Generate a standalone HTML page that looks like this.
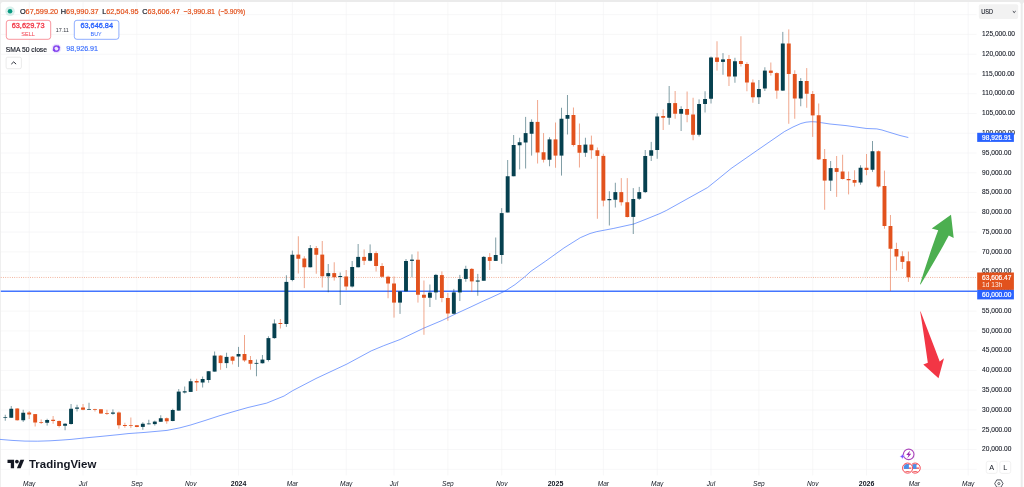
<!DOCTYPE html>
<html lang="en">
<head>
<meta charset="utf-8">
<title>BTCUSD chart</title>
<style>
html,body{margin:0;padding:0;background:#ffffff;overflow:hidden}
body{width:1024px;height:487px;font-family:"Liberation Sans",sans-serif}
svg text{font-family:"Liberation Sans",sans-serif}
</style>
</head>
<body>
<svg width="1024" height="487" viewBox="0 0 1024 487" font-family='"Liberation Sans", sans-serif' style="display:block">
<rect x="0" y="0" width="1024" height="487" fill="#ebebeb"/>
<path d="M0.8 487V4.3Q0.8 2.1 3 2.1H1018.5Q1020.7 2.1 1020.7 4.3V487Z" fill="#ffffff"/>
<path d="M1022.7 487V4.3Q1022.7 2.1 1024.9 2.1H1030V487Z" fill="#ffffff"/>
<g stroke="#f1f2f4" stroke-width="0.6" shape-rendering="auto">
<line x1="0.8" y1="14.65" x2="976.6" y2="14.65"/>
<line x1="0.8" y1="34.42" x2="976.6" y2="34.42"/>
<line x1="0.8" y1="54.19" x2="976.6" y2="54.19"/>
<line x1="0.8" y1="73.95" x2="976.6" y2="73.95"/>
<line x1="0.8" y1="93.72" x2="976.6" y2="93.72"/>
<line x1="0.8" y1="113.49" x2="976.6" y2="113.49"/>
<line x1="0.8" y1="133.26" x2="976.6" y2="133.26"/>
<line x1="0.8" y1="153.02" x2="976.6" y2="153.02"/>
<line x1="0.8" y1="172.79" x2="976.6" y2="172.79"/>
<line x1="0.8" y1="192.56" x2="976.6" y2="192.56"/>
<line x1="0.8" y1="212.33" x2="976.6" y2="212.33"/>
<line x1="0.8" y1="232.09" x2="976.6" y2="232.09"/>
<line x1="0.8" y1="251.86" x2="976.6" y2="251.86"/>
<line x1="0.8" y1="271.63" x2="976.6" y2="271.63"/>
<line x1="0.8" y1="291.39" x2="976.6" y2="291.39"/>
<line x1="0.8" y1="311.16" x2="976.6" y2="311.16"/>
<line x1="0.8" y1="330.93" x2="976.6" y2="330.93"/>
<line x1="0.8" y1="350.70" x2="976.6" y2="350.70"/>
<line x1="0.8" y1="370.47" x2="976.6" y2="370.47"/>
<line x1="0.8" y1="390.23" x2="976.6" y2="390.23"/>
<line x1="0.8" y1="410.00" x2="976.6" y2="410.00"/>
<line x1="0.8" y1="429.77" x2="976.6" y2="429.77"/>
<line x1="0.8" y1="449.54" x2="976.6" y2="449.54"/>
<line x1="0.8" y1="469.30" x2="976.6" y2="469.30"/>
<line x1="29.19" y1="2.1" x2="29.19" y2="475.5"/>
<line x1="83.02" y1="2.1" x2="83.02" y2="475.5"/>
<line x1="136.85" y1="2.1" x2="136.85" y2="475.5"/>
<line x1="190.68" y1="2.1" x2="190.68" y2="475.5"/>
<line x1="238.53" y1="2.1" x2="238.53" y2="475.5"/>
<line x1="292.36" y1="2.1" x2="292.36" y2="475.5"/>
<line x1="346.19" y1="2.1" x2="346.19" y2="475.5"/>
<line x1="394.03" y1="2.1" x2="394.03" y2="475.5"/>
<line x1="447.86" y1="2.1" x2="447.86" y2="475.5"/>
<line x1="501.69" y1="2.1" x2="501.69" y2="475.5"/>
<line x1="555.52" y1="2.1" x2="555.52" y2="475.5"/>
<line x1="603.37" y1="2.1" x2="603.37" y2="475.5"/>
<line x1="657.20" y1="2.1" x2="657.20" y2="475.5"/>
<line x1="711.03" y1="2.1" x2="711.03" y2="475.5"/>
<line x1="758.88" y1="2.1" x2="758.88" y2="475.5"/>
<line x1="812.70" y1="2.1" x2="812.70" y2="475.5"/>
<line x1="866.53" y1="2.1" x2="866.53" y2="475.5"/>
<line x1="914.38" y1="2.1" x2="914.38" y2="475.5"/>
<line x1="968.21" y1="2.1" x2="968.21" y2="475.5"/>
</g>
<polyline points="0.0,439.4 12.0,440.4 25.0,441.1 37.5,441.2 50.0,440.8 60.0,440.2 71.0,439.4 85.0,437.9 100.0,436.5 120.0,434.5 128.0,433.6 145.0,432.4 167.0,430.4 180.0,427.8 190.6,425.0 205.0,420.5 220.0,415.6 235.0,411.2 248.0,407.5 266.7,403.1 284.1,396.0 292.4,390.8 316.0,378.5 346.8,364.1 371.4,350.8 383.7,345.7 400.1,339.5 423.7,328.2 442.2,320.4 455.0,314.2 470.0,307.3 483.8,300.8 490.0,298.1 504.8,291.2 515.0,284.6 524.9,276.7 531.0,271.2 545.4,261.3 563.9,248.0 580.3,237.7 590.0,233.5 596.8,231.6 613.2,228.5 633.7,224.0 646.0,219.2 660.0,213.5 666.5,210.4 690.0,197.3 707.5,187.6 717.0,180.0 731.1,168.5 757.7,150.0 784.4,131.6 793.0,127.0 800.9,123.5 806.0,122.2 811.1,121.7 816.0,121.9 821.4,122.7 830.0,124.0 846.0,125.6 866.6,128.5 876.8,128.9 882.0,130.0 887.1,131.6 900.0,135.5 908.3,137.5" fill="none" stroke="#2962ff" stroke-width="0.7" stroke-linejoin="round" stroke-opacity="0.85"/>
<line x1="0.8" y1="291.2" x2="977.2" y2="291.2" stroke="#2962ff" stroke-width="1.5" stroke-opacity="0.88"/>
<line x1="0.8" y1="277.45" x2="977.2" y2="277.45" stroke="#e2521d" stroke-width="0.6" stroke-dasharray="0.8 1.45" stroke-opacity="0.9"/>
<g>
<line x1="5.27" y1="414.75" x2="5.27" y2="420.75" stroke="#06404f" stroke-width="0.6" stroke-opacity="0.85"/>
<rect x="3.32" y="417.25" width="3.9" height="0.70" fill="#06404f"/>
<line x1="11.25" y1="406.00" x2="11.25" y2="418.00" stroke="#06404f" stroke-width="0.6" stroke-opacity="0.85"/>
<rect x="9.30" y="408.75" width="3.9" height="9.00" fill="#06404f"/>
<line x1="17.23" y1="408.10" x2="17.23" y2="420.60" stroke="#e2521d" stroke-width="0.6" stroke-opacity="0.85"/>
<rect x="15.28" y="408.50" width="3.9" height="11.75" fill="#e2521d"/>
<line x1="23.21" y1="409.75" x2="23.21" y2="421.90" stroke="#06404f" stroke-width="0.6" stroke-opacity="0.85"/>
<rect x="21.26" y="412.75" width="3.9" height="7.50" fill="#06404f"/>
<line x1="29.19" y1="411.00" x2="29.19" y2="419.00" stroke="#e2521d" stroke-width="0.6" stroke-opacity="0.85"/>
<rect x="27.24" y="412.50" width="3.9" height="2.00" fill="#e2521d"/>
<line x1="35.17" y1="414.10" x2="35.17" y2="426.50" stroke="#e2521d" stroke-width="0.6" stroke-opacity="0.85"/>
<rect x="33.22" y="414.10" width="3.9" height="8.40" fill="#e2521d"/>
<line x1="41.16" y1="419.40" x2="41.16" y2="424.00" stroke="#e2521d" stroke-width="0.6" stroke-opacity="0.85"/>
<rect x="39.21" y="422.00" width="3.9" height="0.75" fill="#e2521d"/>
<line x1="47.14" y1="418.75" x2="47.14" y2="425.60" stroke="#06404f" stroke-width="0.6" stroke-opacity="0.85"/>
<rect x="45.19" y="420.00" width="3.9" height="2.75" fill="#06404f"/>
<line x1="53.12" y1="416.00" x2="53.12" y2="423.75" stroke="#e2521d" stroke-width="0.6" stroke-opacity="0.85"/>
<rect x="51.17" y="419.75" width="3.9" height="1.25" fill="#e2521d"/>
<line x1="59.10" y1="420.40" x2="59.10" y2="427.50" stroke="#e2521d" stroke-width="0.6" stroke-opacity="0.85"/>
<rect x="57.15" y="421.00" width="3.9" height="5.00" fill="#e2521d"/>
<line x1="65.08" y1="423.10" x2="65.08" y2="430.25" stroke="#06404f" stroke-width="0.6" stroke-opacity="0.85"/>
<rect x="63.13" y="423.75" width="3.9" height="2.00" fill="#06404f"/>
<line x1="71.06" y1="404.00" x2="71.06" y2="424.60" stroke="#06404f" stroke-width="0.6" stroke-opacity="0.85"/>
<rect x="69.11" y="408.75" width="3.9" height="15.25" fill="#06404f"/>
<line x1="77.04" y1="404.75" x2="77.04" y2="411.50" stroke="#06404f" stroke-width="0.6" stroke-opacity="0.85"/>
<rect x="75.09" y="407.50" width="3.9" height="1.25" fill="#06404f"/>
<line x1="83.02" y1="404.00" x2="83.02" y2="410.25" stroke="#e2521d" stroke-width="0.6" stroke-opacity="0.85"/>
<rect x="81.07" y="407.50" width="3.9" height="2.25" fill="#e2521d"/>
<line x1="89.00" y1="402.75" x2="89.00" y2="409.75" stroke="#06404f" stroke-width="0.6" stroke-opacity="0.85"/>
<rect x="87.05" y="409.00" width="3.9" height="0.70" fill="#06404f"/>
<line x1="94.98" y1="408.75" x2="94.98" y2="411.50" stroke="#e2521d" stroke-width="0.6" stroke-opacity="0.85"/>
<rect x="93.03" y="409.00" width="3.9" height="0.75" fill="#e2521d"/>
<line x1="100.97" y1="409.00" x2="100.97" y2="413.75" stroke="#e2521d" stroke-width="0.6" stroke-opacity="0.85"/>
<rect x="99.02" y="409.25" width="3.9" height="4.25" fill="#e2521d"/>
<line x1="106.95" y1="409.75" x2="106.95" y2="415.00" stroke="#e2521d" stroke-width="0.6" stroke-opacity="0.85"/>
<rect x="105.00" y="413.00" width="3.9" height="0.75" fill="#e2521d"/>
<line x1="112.93" y1="409.40" x2="112.93" y2="414.75" stroke="#06404f" stroke-width="0.6" stroke-opacity="0.85"/>
<rect x="110.98" y="412.50" width="3.9" height="1.25" fill="#06404f"/>
<line x1="118.91" y1="411.50" x2="118.91" y2="428.75" stroke="#e2521d" stroke-width="0.6" stroke-opacity="0.85"/>
<rect x="116.96" y="412.50" width="3.9" height="12.75" fill="#e2521d"/>
<line x1="124.89" y1="422.75" x2="124.89" y2="427.75" stroke="#e2521d" stroke-width="0.6" stroke-opacity="0.85"/>
<rect x="122.94" y="425.00" width="3.9" height="1.00" fill="#e2521d"/>
<line x1="130.87" y1="417.50" x2="130.87" y2="428.10" stroke="#e2521d" stroke-width="0.6" stroke-opacity="0.85"/>
<rect x="128.92" y="425.00" width="3.9" height="0.75" fill="#e2521d"/>
<line x1="136.85" y1="425.00" x2="136.85" y2="427.25" stroke="#e2521d" stroke-width="0.6" stroke-opacity="0.85"/>
<rect x="134.90" y="425.25" width="3.9" height="1.75" fill="#e2521d"/>
<line x1="142.83" y1="422.25" x2="142.83" y2="429.75" stroke="#06404f" stroke-width="0.6" stroke-opacity="0.85"/>
<rect x="140.88" y="423.75" width="3.9" height="3.15" fill="#06404f"/>
<line x1="148.81" y1="419.75" x2="148.81" y2="424.40" stroke="#06404f" stroke-width="0.6" stroke-opacity="0.85"/>
<rect x="146.86" y="423.50" width="3.9" height="0.75" fill="#06404f"/>
<line x1="154.80" y1="420.60" x2="154.80" y2="425.60" stroke="#06404f" stroke-width="0.6" stroke-opacity="0.85"/>
<rect x="152.85" y="421.60" width="3.9" height="2.50" fill="#06404f"/>
<line x1="160.78" y1="415.25" x2="160.78" y2="421.90" stroke="#06404f" stroke-width="0.6" stroke-opacity="0.85"/>
<rect x="158.83" y="418.25" width="3.9" height="3.50" fill="#06404f"/>
<line x1="166.76" y1="417.50" x2="166.76" y2="423.75" stroke="#e2521d" stroke-width="0.6" stroke-opacity="0.85"/>
<rect x="164.81" y="418.25" width="3.9" height="3.00" fill="#e2521d"/>
<line x1="172.74" y1="408.75" x2="172.74" y2="421.25" stroke="#06404f" stroke-width="0.6" stroke-opacity="0.85"/>
<rect x="170.79" y="410.00" width="3.9" height="11.00" fill="#06404f"/>
<line x1="178.72" y1="389.00" x2="178.72" y2="410.60" stroke="#06404f" stroke-width="0.6" stroke-opacity="0.85"/>
<rect x="176.77" y="391.60" width="3.9" height="19.00" fill="#06404f"/>
<line x1="184.70" y1="386.50" x2="184.70" y2="393.50" stroke="#06404f" stroke-width="0.6" stroke-opacity="0.85"/>
<rect x="182.75" y="391.25" width="3.9" height="1.25" fill="#06404f"/>
<line x1="190.68" y1="378.75" x2="190.68" y2="391.90" stroke="#06404f" stroke-width="0.6" stroke-opacity="0.85"/>
<rect x="188.73" y="381.25" width="3.9" height="10.65" fill="#06404f"/>
<line x1="196.66" y1="378.75" x2="196.66" y2="391.00" stroke="#e2521d" stroke-width="0.6" stroke-opacity="0.85"/>
<rect x="194.71" y="381.00" width="3.9" height="1.50" fill="#e2521d"/>
<line x1="202.64" y1="376.50" x2="202.64" y2="387.50" stroke="#06404f" stroke-width="0.6" stroke-opacity="0.85"/>
<rect x="200.69" y="379.00" width="3.9" height="3.50" fill="#06404f"/>
<line x1="208.62" y1="371.00" x2="208.62" y2="382.75" stroke="#06404f" stroke-width="0.6" stroke-opacity="0.85"/>
<rect x="206.67" y="371.25" width="3.9" height="8.75" fill="#06404f"/>
<line x1="214.61" y1="351.50" x2="214.61" y2="371.60" stroke="#06404f" stroke-width="0.6" stroke-opacity="0.85"/>
<rect x="212.66" y="355.60" width="3.9" height="16.00" fill="#06404f"/>
<line x1="220.59" y1="355.00" x2="220.59" y2="369.75" stroke="#e2521d" stroke-width="0.6" stroke-opacity="0.85"/>
<rect x="218.64" y="355.60" width="3.9" height="7.50" fill="#e2521d"/>
<line x1="226.57" y1="352.75" x2="226.57" y2="368.10" stroke="#06404f" stroke-width="0.6" stroke-opacity="0.85"/>
<rect x="224.62" y="356.90" width="3.9" height="6.20" fill="#06404f"/>
<line x1="232.55" y1="356.00" x2="232.55" y2="364.40" stroke="#e2521d" stroke-width="0.6" stroke-opacity="0.85"/>
<rect x="230.60" y="356.60" width="3.9" height="4.15" fill="#e2521d"/>
<line x1="238.53" y1="346.90" x2="238.53" y2="366.90" stroke="#06404f" stroke-width="0.6" stroke-opacity="0.85"/>
<rect x="236.58" y="354.00" width="3.9" height="2.50" fill="#06404f"/>
<line x1="244.51" y1="335.00" x2="244.51" y2="361.90" stroke="#e2521d" stroke-width="0.6" stroke-opacity="0.85"/>
<rect x="242.56" y="354.00" width="3.9" height="6.40" fill="#e2521d"/>
<line x1="250.49" y1="356.00" x2="250.49" y2="369.75" stroke="#e2521d" stroke-width="0.6" stroke-opacity="0.85"/>
<rect x="248.54" y="360.00" width="3.9" height="3.75" fill="#e2521d"/>
<line x1="256.47" y1="359.50" x2="256.47" y2="376.25" stroke="#06404f" stroke-width="0.6" stroke-opacity="0.85"/>
<rect x="254.52" y="362.90" width="3.9" height="0.85" fill="#06404f"/>
<line x1="262.45" y1="355.00" x2="262.45" y2="363.50" stroke="#06404f" stroke-width="0.6" stroke-opacity="0.85"/>
<rect x="260.50" y="359.60" width="3.9" height="3.65" fill="#06404f"/>
<line x1="268.43" y1="336.25" x2="268.43" y2="361.50" stroke="#06404f" stroke-width="0.6" stroke-opacity="0.85"/>
<rect x="266.48" y="338.10" width="3.9" height="21.90" fill="#06404f"/>
<line x1="274.41" y1="319.40" x2="274.41" y2="338.75" stroke="#06404f" stroke-width="0.6" stroke-opacity="0.85"/>
<rect x="272.46" y="323.50" width="3.9" height="14.60" fill="#06404f"/>
<line x1="280.40" y1="319.00" x2="280.40" y2="328.50" stroke="#e2521d" stroke-width="0.6" stroke-opacity="0.85"/>
<rect x="278.45" y="323.00" width="3.9" height="1.00" fill="#e2521d"/>
<line x1="286.38" y1="275.25" x2="286.38" y2="326.90" stroke="#06404f" stroke-width="0.6" stroke-opacity="0.85"/>
<rect x="284.43" y="281.90" width="3.9" height="42.10" fill="#06404f"/>
<line x1="292.36" y1="250.60" x2="292.36" y2="281.25" stroke="#06404f" stroke-width="0.6" stroke-opacity="0.85"/>
<rect x="290.41" y="254.75" width="3.9" height="25.25" fill="#06404f"/>
<line x1="298.34" y1="236.25" x2="298.34" y2="273.50" stroke="#e2521d" stroke-width="0.6" stroke-opacity="0.85"/>
<rect x="296.39" y="254.60" width="3.9" height="4.15" fill="#e2521d"/>
<line x1="304.32" y1="256.25" x2="304.32" y2="288.10" stroke="#e2521d" stroke-width="0.6" stroke-opacity="0.85"/>
<rect x="302.37" y="258.50" width="3.9" height="8.75" fill="#e2521d"/>
<line x1="310.30" y1="245.00" x2="310.30" y2="267.50" stroke="#06404f" stroke-width="0.6" stroke-opacity="0.85"/>
<rect x="308.35" y="248.10" width="3.9" height="19.15" fill="#06404f"/>
<line x1="316.28" y1="246.00" x2="316.28" y2="273.75" stroke="#e2521d" stroke-width="0.6" stroke-opacity="0.85"/>
<rect x="314.33" y="248.10" width="3.9" height="6.65" fill="#e2521d"/>
<line x1="322.26" y1="241.00" x2="322.26" y2="287.50" stroke="#e2521d" stroke-width="0.6" stroke-opacity="0.85"/>
<rect x="320.31" y="254.60" width="3.9" height="21.65" fill="#e2521d"/>
<line x1="328.24" y1="264.00" x2="328.24" y2="292.25" stroke="#06404f" stroke-width="0.6" stroke-opacity="0.85"/>
<rect x="326.29" y="273.10" width="3.9" height="3.15" fill="#06404f"/>
<line x1="334.22" y1="262.25" x2="334.22" y2="280.60" stroke="#e2521d" stroke-width="0.6" stroke-opacity="0.85"/>
<rect x="332.27" y="273.10" width="3.9" height="4.15" fill="#e2521d"/>
<line x1="340.21" y1="272.50" x2="340.21" y2="305.00" stroke="#06404f" stroke-width="0.6" stroke-opacity="0.85"/>
<rect x="338.26" y="276.00" width="3.9" height="1.00" fill="#06404f"/>
<line x1="346.19" y1="270.00" x2="346.19" y2="290.25" stroke="#e2521d" stroke-width="0.6" stroke-opacity="0.85"/>
<rect x="344.24" y="276.50" width="3.9" height="10.00" fill="#e2521d"/>
<line x1="352.17" y1="261.00" x2="352.17" y2="287.50" stroke="#06404f" stroke-width="0.6" stroke-opacity="0.85"/>
<rect x="350.22" y="267.00" width="3.9" height="19.50" fill="#06404f"/>
<line x1="358.15" y1="244.00" x2="358.15" y2="267.50" stroke="#06404f" stroke-width="0.6" stroke-opacity="0.85"/>
<rect x="356.20" y="256.90" width="3.9" height="10.35" fill="#06404f"/>
<line x1="364.13" y1="249.40" x2="364.13" y2="265.00" stroke="#e2521d" stroke-width="0.6" stroke-opacity="0.85"/>
<rect x="362.18" y="256.90" width="3.9" height="3.85" fill="#e2521d"/>
<line x1="370.11" y1="244.40" x2="370.11" y2="261.25" stroke="#06404f" stroke-width="0.6" stroke-opacity="0.85"/>
<rect x="368.16" y="253.10" width="3.9" height="7.65" fill="#06404f"/>
<line x1="376.09" y1="251.25" x2="376.09" y2="271.50" stroke="#e2521d" stroke-width="0.6" stroke-opacity="0.85"/>
<rect x="374.14" y="253.10" width="3.9" height="12.90" fill="#e2521d"/>
<line x1="382.07" y1="263.10" x2="382.07" y2="277.50" stroke="#e2521d" stroke-width="0.6" stroke-opacity="0.85"/>
<rect x="380.12" y="266.00" width="3.9" height="10.75" fill="#e2521d"/>
<line x1="388.05" y1="275.75" x2="388.05" y2="298.25" stroke="#e2521d" stroke-width="0.6" stroke-opacity="0.85"/>
<rect x="386.10" y="276.75" width="3.9" height="6.75" fill="#e2521d"/>
<line x1="394.03" y1="276.40" x2="394.03" y2="317.60" stroke="#e2521d" stroke-width="0.6" stroke-opacity="0.85"/>
<rect x="392.08" y="283.50" width="3.9" height="19.10" fill="#e2521d"/>
<line x1="400.02" y1="291.00" x2="400.02" y2="313.90" stroke="#06404f" stroke-width="0.6" stroke-opacity="0.85"/>
<rect x="398.07" y="291.40" width="3.9" height="11.20" fill="#06404f"/>
<line x1="406.00" y1="259.00" x2="406.00" y2="291.40" stroke="#06404f" stroke-width="0.6" stroke-opacity="0.85"/>
<rect x="404.05" y="261.00" width="3.9" height="30.40" fill="#06404f"/>
<line x1="411.98" y1="254.40" x2="411.98" y2="277.25" stroke="#06404f" stroke-width="0.6" stroke-opacity="0.85"/>
<rect x="410.03" y="259.60" width="3.9" height="1.30" fill="#06404f"/>
<line x1="417.96" y1="251.50" x2="417.96" y2="302.60" stroke="#e2521d" stroke-width="0.6" stroke-opacity="0.85"/>
<rect x="416.01" y="259.75" width="3.9" height="35.00" fill="#e2521d"/>
<line x1="423.94" y1="280.50" x2="423.94" y2="334.80" stroke="#e2521d" stroke-width="0.6" stroke-opacity="0.85"/>
<rect x="421.99" y="294.75" width="3.9" height="3.00" fill="#e2521d"/>
<line x1="429.92" y1="284.50" x2="429.92" y2="307.00" stroke="#06404f" stroke-width="0.6" stroke-opacity="0.85"/>
<rect x="427.97" y="292.60" width="3.9" height="5.15" fill="#06404f"/>
<line x1="435.90" y1="273.90" x2="435.90" y2="299.75" stroke="#06404f" stroke-width="0.6" stroke-opacity="0.85"/>
<rect x="433.95" y="274.90" width="3.9" height="17.50" fill="#06404f"/>
<line x1="441.88" y1="271.40" x2="441.88" y2="302.25" stroke="#e2521d" stroke-width="0.6" stroke-opacity="0.85"/>
<rect x="439.93" y="275.10" width="3.9" height="22.90" fill="#e2521d"/>
<line x1="447.86" y1="293.00" x2="447.86" y2="320.75" stroke="#e2521d" stroke-width="0.6" stroke-opacity="0.85"/>
<rect x="445.91" y="298.00" width="3.9" height="15.50" fill="#e2521d"/>
<line x1="453.84" y1="288.90" x2="453.84" y2="314.25" stroke="#06404f" stroke-width="0.6" stroke-opacity="0.85"/>
<rect x="451.89" y="292.40" width="3.9" height="21.35" fill="#06404f"/>
<line x1="459.83" y1="274.90" x2="459.83" y2="301.00" stroke="#06404f" stroke-width="0.6" stroke-opacity="0.85"/>
<rect x="457.88" y="279.10" width="3.9" height="13.30" fill="#06404f"/>
<line x1="465.81" y1="265.75" x2="465.81" y2="281.75" stroke="#06404f" stroke-width="0.6" stroke-opacity="0.85"/>
<rect x="463.86" y="268.90" width="3.9" height="10.00" fill="#06404f"/>
<line x1="471.79" y1="268.00" x2="471.79" y2="292.00" stroke="#e2521d" stroke-width="0.6" stroke-opacity="0.85"/>
<rect x="469.84" y="268.90" width="3.9" height="12.50" fill="#e2521d"/>
<line x1="477.77" y1="273.90" x2="477.77" y2="295.75" stroke="#06404f" stroke-width="0.6" stroke-opacity="0.85"/>
<rect x="475.82" y="280.50" width="3.9" height="1.10" fill="#06404f"/>
<line x1="483.75" y1="256.00" x2="483.75" y2="280.75" stroke="#06404f" stroke-width="0.6" stroke-opacity="0.85"/>
<rect x="481.80" y="256.90" width="3.9" height="23.85" fill="#06404f"/>
<line x1="489.73" y1="253.10" x2="489.73" y2="270.00" stroke="#e2521d" stroke-width="0.6" stroke-opacity="0.85"/>
<rect x="487.78" y="257.10" width="3.9" height="3.80" fill="#e2521d"/>
<line x1="495.71" y1="237.50" x2="495.71" y2="260.90" stroke="#06404f" stroke-width="0.6" stroke-opacity="0.85"/>
<rect x="493.76" y="255.00" width="3.9" height="5.90" fill="#06404f"/>
<line x1="501.69" y1="208.10" x2="501.69" y2="263.75" stroke="#06404f" stroke-width="0.6" stroke-opacity="0.85"/>
<rect x="499.74" y="213.10" width="3.9" height="41.90" fill="#06404f"/>
<line x1="507.67" y1="160.00" x2="507.67" y2="212.50" stroke="#06404f" stroke-width="0.6" stroke-opacity="0.85"/>
<rect x="505.72" y="176.25" width="3.9" height="36.25" fill="#06404f"/>
<line x1="513.65" y1="135.00" x2="513.65" y2="176.25" stroke="#06404f" stroke-width="0.6" stroke-opacity="0.85"/>
<rect x="511.70" y="145.00" width="3.9" height="31.25" fill="#06404f"/>
<line x1="519.64" y1="137.75" x2="519.64" y2="169.40" stroke="#06404f" stroke-width="0.6" stroke-opacity="0.85"/>
<rect x="517.69" y="142.25" width="3.9" height="3.00" fill="#06404f"/>
<line x1="525.62" y1="116.90" x2="525.62" y2="168.50" stroke="#06404f" stroke-width="0.6" stroke-opacity="0.85"/>
<rect x="523.67" y="133.10" width="3.9" height="9.40" fill="#06404f"/>
<line x1="531.60" y1="119.40" x2="531.60" y2="155.60" stroke="#06404f" stroke-width="0.6" stroke-opacity="0.85"/>
<rect x="529.65" y="121.90" width="3.9" height="11.85" fill="#06404f"/>
<line x1="537.58" y1="100.00" x2="537.58" y2="163.50" stroke="#e2521d" stroke-width="0.6" stroke-opacity="0.85"/>
<rect x="535.63" y="121.90" width="3.9" height="30.60" fill="#e2521d"/>
<line x1="543.56" y1="133.10" x2="543.56" y2="162.50" stroke="#e2521d" stroke-width="0.6" stroke-opacity="0.85"/>
<rect x="541.61" y="152.25" width="3.9" height="7.50" fill="#e2521d"/>
<line x1="549.54" y1="137.25" x2="549.54" y2="166.25" stroke="#06404f" stroke-width="0.6" stroke-opacity="0.85"/>
<rect x="547.59" y="139.40" width="3.9" height="20.35" fill="#06404f"/>
<line x1="555.52" y1="122.50" x2="555.52" y2="167.75" stroke="#e2521d" stroke-width="0.6" stroke-opacity="0.85"/>
<rect x="553.57" y="139.40" width="3.9" height="16.20" fill="#e2521d"/>
<line x1="561.50" y1="107.75" x2="561.50" y2="175.60" stroke="#06404f" stroke-width="0.6" stroke-opacity="0.85"/>
<rect x="559.55" y="118.75" width="3.9" height="36.85" fill="#06404f"/>
<line x1="567.48" y1="95.00" x2="567.48" y2="134.50" stroke="#06404f" stroke-width="0.6" stroke-opacity="0.85"/>
<rect x="565.53" y="115.00" width="3.9" height="3.75" fill="#06404f"/>
<line x1="573.46" y1="107.50" x2="573.46" y2="146.50" stroke="#e2521d" stroke-width="0.6" stroke-opacity="0.85"/>
<rect x="571.51" y="115.00" width="3.9" height="30.00" fill="#e2521d"/>
<line x1="579.45" y1="123.50" x2="579.45" y2="167.50" stroke="#e2521d" stroke-width="0.6" stroke-opacity="0.85"/>
<rect x="577.50" y="145.00" width="3.9" height="7.75" fill="#e2521d"/>
<line x1="585.43" y1="137.75" x2="585.43" y2="156.90" stroke="#06404f" stroke-width="0.6" stroke-opacity="0.85"/>
<rect x="583.48" y="144.60" width="3.9" height="8.15" fill="#06404f"/>
<line x1="591.41" y1="135.60" x2="591.41" y2="158.75" stroke="#e2521d" stroke-width="0.6" stroke-opacity="0.85"/>
<rect x="589.46" y="144.60" width="3.9" height="5.65" fill="#e2521d"/>
<line x1="597.39" y1="147.50" x2="597.39" y2="218.75" stroke="#e2521d" stroke-width="0.6" stroke-opacity="0.85"/>
<rect x="595.44" y="150.25" width="3.9" height="5.65" fill="#e2521d"/>
<line x1="603.37" y1="153.75" x2="603.37" y2="206.40" stroke="#e2521d" stroke-width="0.6" stroke-opacity="0.85"/>
<rect x="601.42" y="155.90" width="3.9" height="44.70" fill="#e2521d"/>
<line x1="609.35" y1="191.25" x2="609.35" y2="225.50" stroke="#06404f" stroke-width="0.6" stroke-opacity="0.85"/>
<rect x="607.40" y="199.00" width="3.9" height="1.25" fill="#06404f"/>
<line x1="615.33" y1="182.75" x2="615.33" y2="207.50" stroke="#06404f" stroke-width="0.6" stroke-opacity="0.85"/>
<rect x="613.38" y="192.10" width="3.9" height="7.65" fill="#06404f"/>
<line x1="621.31" y1="178.10" x2="621.31" y2="205.60" stroke="#e2521d" stroke-width="0.6" stroke-opacity="0.85"/>
<rect x="619.36" y="192.10" width="3.9" height="10.15" fill="#e2521d"/>
<line x1="627.29" y1="178.10" x2="627.29" y2="217.50" stroke="#e2521d" stroke-width="0.6" stroke-opacity="0.85"/>
<rect x="625.34" y="202.25" width="3.9" height="14.75" fill="#e2521d"/>
<line x1="633.27" y1="188.10" x2="633.27" y2="234.00" stroke="#06404f" stroke-width="0.6" stroke-opacity="0.85"/>
<rect x="631.32" y="199.00" width="3.9" height="17.90" fill="#06404f"/>
<line x1="639.26" y1="186.90" x2="639.26" y2="200.00" stroke="#06404f" stroke-width="0.6" stroke-opacity="0.85"/>
<rect x="637.31" y="192.10" width="3.9" height="6.65" fill="#06404f"/>
<line x1="645.24" y1="150.00" x2="645.24" y2="193.10" stroke="#06404f" stroke-width="0.6" stroke-opacity="0.85"/>
<rect x="643.29" y="156.00" width="3.9" height="36.10" fill="#06404f"/>
<line x1="651.22" y1="141.90" x2="651.22" y2="161.00" stroke="#06404f" stroke-width="0.6" stroke-opacity="0.85"/>
<rect x="649.27" y="150.25" width="3.9" height="5.50" fill="#06404f"/>
<line x1="657.20" y1="113.10" x2="657.20" y2="158.75" stroke="#06404f" stroke-width="0.6" stroke-opacity="0.85"/>
<rect x="655.25" y="116.50" width="3.9" height="33.50" fill="#06404f"/>
<line x1="663.18" y1="109.40" x2="663.18" y2="130.00" stroke="#e2521d" stroke-width="0.6" stroke-opacity="0.85"/>
<rect x="661.23" y="116.00" width="3.9" height="1.75" fill="#e2521d"/>
<line x1="669.16" y1="86.00" x2="669.16" y2="124.75" stroke="#06404f" stroke-width="0.6" stroke-opacity="0.85"/>
<rect x="667.21" y="103.10" width="3.9" height="14.65" fill="#06404f"/>
<line x1="675.14" y1="91.00" x2="675.14" y2="118.75" stroke="#e2521d" stroke-width="0.6" stroke-opacity="0.85"/>
<rect x="673.19" y="103.10" width="3.9" height="10.65" fill="#e2521d"/>
<line x1="681.12" y1="106.25" x2="681.12" y2="131.00" stroke="#06404f" stroke-width="0.6" stroke-opacity="0.85"/>
<rect x="679.17" y="109.00" width="3.9" height="4.75" fill="#06404f"/>
<line x1="687.10" y1="91.50" x2="687.10" y2="122.25" stroke="#e2521d" stroke-width="0.6" stroke-opacity="0.85"/>
<rect x="685.15" y="109.00" width="3.9" height="5.75" fill="#e2521d"/>
<line x1="693.08" y1="97.75" x2="693.08" y2="140.25" stroke="#e2521d" stroke-width="0.6" stroke-opacity="0.85"/>
<rect x="691.13" y="114.50" width="3.9" height="20.25" fill="#e2521d"/>
<line x1="699.07" y1="99.40" x2="699.07" y2="136.50" stroke="#06404f" stroke-width="0.6" stroke-opacity="0.85"/>
<rect x="697.12" y="104.00" width="3.9" height="30.75" fill="#06404f"/>
<line x1="705.05" y1="91.25" x2="705.05" y2="112.50" stroke="#06404f" stroke-width="0.6" stroke-opacity="0.85"/>
<rect x="703.10" y="99.00" width="3.9" height="5.00" fill="#06404f"/>
<line x1="711.03" y1="56.50" x2="711.03" y2="103.50" stroke="#06404f" stroke-width="0.6" stroke-opacity="0.85"/>
<rect x="709.08" y="57.50" width="3.9" height="41.25" fill="#06404f"/>
<line x1="717.01" y1="41.25" x2="717.01" y2="70.60" stroke="#e2521d" stroke-width="0.6" stroke-opacity="0.85"/>
<rect x="715.06" y="57.50" width="3.9" height="4.40" fill="#e2521d"/>
<line x1="722.99" y1="53.10" x2="722.99" y2="74.75" stroke="#06404f" stroke-width="0.6" stroke-opacity="0.85"/>
<rect x="721.04" y="59.40" width="3.9" height="2.50" fill="#06404f"/>
<line x1="728.97" y1="55.00" x2="728.97" y2="86.00" stroke="#e2521d" stroke-width="0.6" stroke-opacity="0.85"/>
<rect x="727.02" y="59.00" width="3.9" height="17.50" fill="#e2521d"/>
<line x1="734.95" y1="57.75" x2="734.95" y2="82.75" stroke="#06404f" stroke-width="0.6" stroke-opacity="0.85"/>
<rect x="733.00" y="61.25" width="3.9" height="15.25" fill="#06404f"/>
<line x1="740.93" y1="36.25" x2="740.93" y2="66.50" stroke="#e2521d" stroke-width="0.6" stroke-opacity="0.85"/>
<rect x="738.98" y="61.00" width="3.9" height="3.00" fill="#e2521d"/>
<line x1="746.91" y1="62.25" x2="746.91" y2="91.25" stroke="#e2521d" stroke-width="0.6" stroke-opacity="0.85"/>
<rect x="744.96" y="64.00" width="3.9" height="18.50" fill="#e2521d"/>
<line x1="752.89" y1="79.40" x2="752.89" y2="102.75" stroke="#e2521d" stroke-width="0.6" stroke-opacity="0.85"/>
<rect x="750.94" y="82.50" width="3.9" height="14.75" fill="#e2521d"/>
<line x1="758.88" y1="80.00" x2="758.88" y2="104.00" stroke="#06404f" stroke-width="0.6" stroke-opacity="0.85"/>
<rect x="756.93" y="89.00" width="3.9" height="8.25" fill="#06404f"/>
<line x1="764.86" y1="67.25" x2="764.86" y2="91.00" stroke="#06404f" stroke-width="0.6" stroke-opacity="0.85"/>
<rect x="762.91" y="70.60" width="3.9" height="17.90" fill="#06404f"/>
<line x1="770.84" y1="62.50" x2="770.84" y2="75.60" stroke="#e2521d" stroke-width="0.6" stroke-opacity="0.85"/>
<rect x="768.89" y="70.60" width="3.9" height="2.30" fill="#e2521d"/>
<line x1="776.82" y1="72.25" x2="776.82" y2="98.75" stroke="#e2521d" stroke-width="0.6" stroke-opacity="0.85"/>
<rect x="774.87" y="73.10" width="3.9" height="17.50" fill="#e2521d"/>
<line x1="782.80" y1="31.90" x2="782.80" y2="91.00" stroke="#06404f" stroke-width="0.6" stroke-opacity="0.85"/>
<rect x="780.85" y="43.50" width="3.9" height="47.10" fill="#06404f"/>
<line x1="788.78" y1="29.40" x2="788.78" y2="123.75" stroke="#e2521d" stroke-width="0.6" stroke-opacity="0.85"/>
<rect x="786.83" y="43.50" width="3.9" height="30.50" fill="#e2521d"/>
<line x1="794.76" y1="70.25" x2="794.76" y2="118.75" stroke="#e2521d" stroke-width="0.6" stroke-opacity="0.85"/>
<rect x="792.81" y="74.00" width="3.9" height="24.50" fill="#e2521d"/>
<line x1="800.74" y1="78.10" x2="800.74" y2="106.25" stroke="#06404f" stroke-width="0.6" stroke-opacity="0.85"/>
<rect x="798.79" y="81.00" width="3.9" height="17.50" fill="#06404f"/>
<line x1="806.72" y1="68.10" x2="806.72" y2="107.75" stroke="#e2521d" stroke-width="0.6" stroke-opacity="0.85"/>
<rect x="804.77" y="81.00" width="3.9" height="12.75" fill="#e2521d"/>
<line x1="812.70" y1="91.00" x2="812.70" y2="136.90" stroke="#e2521d" stroke-width="0.6" stroke-opacity="0.85"/>
<rect x="810.75" y="94.00" width="3.9" height="21.40" fill="#e2521d"/>
<line x1="818.69" y1="103.50" x2="818.69" y2="160.00" stroke="#e2521d" stroke-width="0.6" stroke-opacity="0.85"/>
<rect x="816.74" y="115.25" width="3.9" height="44.15" fill="#e2521d"/>
<line x1="824.67" y1="149.00" x2="824.67" y2="209.75" stroke="#e2521d" stroke-width="0.6" stroke-opacity="0.85"/>
<rect x="822.72" y="159.00" width="3.9" height="21.60" fill="#e2521d"/>
<line x1="830.65" y1="161.00" x2="830.65" y2="191.00" stroke="#06404f" stroke-width="0.6" stroke-opacity="0.85"/>
<rect x="828.70" y="168.10" width="3.9" height="12.50" fill="#06404f"/>
<line x1="836.63" y1="156.00" x2="836.63" y2="196.90" stroke="#e2521d" stroke-width="0.6" stroke-opacity="0.85"/>
<rect x="834.68" y="168.10" width="3.9" height="3.80" fill="#e2521d"/>
<line x1="842.61" y1="154.75" x2="842.61" y2="179.50" stroke="#e2521d" stroke-width="0.6" stroke-opacity="0.85"/>
<rect x="840.66" y="171.50" width="3.9" height="7.50" fill="#e2521d"/>
<line x1="848.59" y1="171.50" x2="848.59" y2="194.40" stroke="#e2521d" stroke-width="0.6" stroke-opacity="0.85"/>
<rect x="846.64" y="179.00" width="3.9" height="1.25" fill="#e2521d"/>
<line x1="854.57" y1="170.25" x2="854.57" y2="186.50" stroke="#e2521d" stroke-width="0.6" stroke-opacity="0.85"/>
<rect x="852.62" y="180.00" width="3.9" height="2.75" fill="#e2521d"/>
<line x1="860.55" y1="165.25" x2="860.55" y2="184.75" stroke="#06404f" stroke-width="0.6" stroke-opacity="0.85"/>
<rect x="858.60" y="167.75" width="3.9" height="14.75" fill="#06404f"/>
<line x1="866.53" y1="154.00" x2="866.53" y2="175.25" stroke="#e2521d" stroke-width="0.6" stroke-opacity="0.85"/>
<rect x="864.58" y="167.75" width="3.9" height="2.25" fill="#e2521d"/>
<line x1="872.51" y1="141.00" x2="872.51" y2="171.90" stroke="#06404f" stroke-width="0.6" stroke-opacity="0.85"/>
<rect x="870.56" y="151.25" width="3.9" height="18.50" fill="#06404f"/>
<line x1="878.50" y1="150.50" x2="878.50" y2="187.50" stroke="#e2521d" stroke-width="0.6" stroke-opacity="0.85"/>
<rect x="876.55" y="151.25" width="3.9" height="35.25" fill="#e2521d"/>
<line x1="884.48" y1="170.60" x2="884.48" y2="228.75" stroke="#e2521d" stroke-width="0.6" stroke-opacity="0.85"/>
<rect x="882.53" y="186.00" width="3.9" height="40.00" fill="#e2521d"/>
<line x1="890.46" y1="215.00" x2="890.46" y2="291.00" stroke="#e2521d" stroke-width="0.6" stroke-opacity="0.85"/>
<rect x="888.51" y="226.00" width="3.9" height="22.75" fill="#e2521d"/>
<line x1="896.44" y1="242.75" x2="896.44" y2="270.60" stroke="#e2521d" stroke-width="0.6" stroke-opacity="0.85"/>
<rect x="894.49" y="249.00" width="3.9" height="7.50" fill="#e2521d"/>
<line x1="902.42" y1="251.25" x2="902.42" y2="269.00" stroke="#e2521d" stroke-width="0.6" stroke-opacity="0.85"/>
<rect x="900.47" y="256.25" width="3.9" height="5.65" fill="#e2521d"/>
<line x1="908.40" y1="251.50" x2="908.40" y2="281.90" stroke="#e2521d" stroke-width="0.6" stroke-opacity="0.85"/>
<rect x="906.45" y="261.25" width="3.9" height="16.00" fill="#e2521d"/>
</g>
<path d="M920 284.3 C925 268 932 247 938.2 230.3 L931.7 228.4 L951 214.8 L953.7 238 L948.8 235.4 C941 250 930 269 920.6 284.6 Z" fill="#4caf50"/>
<path d="M920.2 311.4 C923 329 925.5 346 927.8 362.8 L923.3 364.4 L938.5 378.2 L944 358.2 L939.7 361.6 C934 346 927 328 920.6 311.4 Z" fill="#f23645"/>
<text x="982.10" y="36.17" font-size="6.58" fill="#131722" stroke="#131722" stroke-width="0.1">125,000.00</text>
<text x="982.10" y="55.94" font-size="6.58" fill="#131722" stroke="#131722" stroke-width="0.1">120,000.00</text>
<text x="982.10" y="75.70" font-size="6.58" fill="#131722" stroke="#131722" stroke-width="0.1">115,000.00</text>
<text x="982.10" y="95.47" font-size="6.58" fill="#131722" stroke="#131722" stroke-width="0.1">110,000.00</text>
<text x="982.10" y="115.24" font-size="6.58" fill="#131722" stroke="#131722" stroke-width="0.1">105,000.00</text>
<text x="982.10" y="135.01" font-size="6.58" fill="#131722" stroke="#131722" stroke-width="0.1">100,000.00</text>
<text x="982.10" y="154.77" font-size="6.58" fill="#131722" stroke="#131722" stroke-width="0.1">95,000.00</text>
<text x="982.10" y="174.54" font-size="6.58" fill="#131722" stroke="#131722" stroke-width="0.1">90,000.00</text>
<text x="982.10" y="194.31" font-size="6.58" fill="#131722" stroke="#131722" stroke-width="0.1">85,000.00</text>
<text x="982.10" y="214.08" font-size="6.58" fill="#131722" stroke="#131722" stroke-width="0.1">80,000.00</text>
<text x="982.10" y="233.84" font-size="6.58" fill="#131722" stroke="#131722" stroke-width="0.1">75,000.00</text>
<text x="982.10" y="253.61" font-size="6.58" fill="#131722" stroke="#131722" stroke-width="0.1">70,000.00</text>
<text x="982.10" y="273.38" font-size="6.58" fill="#131722" stroke="#131722" stroke-width="0.1">65,000.00</text>
<text x="982.10" y="293.14" font-size="6.58" fill="#131722" stroke="#131722" stroke-width="0.1">60,000.00</text>
<text x="982.10" y="312.91" font-size="6.58" fill="#131722" stroke="#131722" stroke-width="0.1">55,000.00</text>
<text x="982.10" y="332.68" font-size="6.58" fill="#131722" stroke="#131722" stroke-width="0.1">50,000.00</text>
<text x="982.10" y="352.45" font-size="6.58" fill="#131722" stroke="#131722" stroke-width="0.1">45,000.00</text>
<text x="982.10" y="372.22" font-size="6.58" fill="#131722" stroke="#131722" stroke-width="0.1">40,000.00</text>
<text x="982.10" y="391.98" font-size="6.58" fill="#131722" stroke="#131722" stroke-width="0.1">35,000.00</text>
<text x="982.10" y="411.75" font-size="6.58" fill="#131722" stroke="#131722" stroke-width="0.1">30,000.00</text>
<text x="982.10" y="431.52" font-size="6.58" fill="#131722" stroke="#131722" stroke-width="0.1">25,000.00</text>
<text x="982.10" y="451.29" font-size="6.58" fill="#131722" stroke="#131722" stroke-width="0.1">20,000.00</text>
<rect x="977.2" y="132.8" width="36.7" height="9.1" fill="#2962ff"/>
<text x="982.10" y="139.70" font-size="6.58" fill="#ffffff" stroke="#ffffff" stroke-width="0.2">98,926.91</text>
<rect x="977.2" y="272.5" width="36.7" height="17.4" fill="#e2521d"/>
<text x="982.10" y="279.50" font-size="6.58" fill="#ffffff" stroke="#ffffff" stroke-width="0.2">63,606.47</text>
<text x="982.10" y="287.10" font-size="6.58" fill="#ffffff" fill-opacity="0.9">1d 13h</text>
<rect x="977.2" y="289.9" width="36.7" height="9.5" fill="#2962ff"/>
<text x="982.10" y="296.90" font-size="6.58" fill="#ffffff" stroke="#ffffff" stroke-width="0.2">60,000.00</text>
<rect x="978.8" y="4.3" width="39.4" height="14.7" rx="2" fill="#f2f2f2"/>
<text x="981.20" y="13.90" font-size="6.6" fill="#131722" textLength="11.70" lengthAdjust="spacingAndGlyphs" stroke="#131722" stroke-width="0.12">USD</text>
<path d="M1012.8 11.2 L1014.2 12.5 L1015.6 11.2" fill="none" stroke="#131722" stroke-width="0.9"/>
<rect x="986.3" y="461.3" width="10.9" height="12.1" rx="2" fill="#ffffff" stroke="#ebebeb" stroke-width="0.7"/>
<text x="991.75" y="470.10" font-size="7.3" fill="#131722" text-anchor="middle">A</text>
<rect x="999.8" y="461.3" width="10.9" height="12.1" rx="2" fill="#ffffff" stroke="#ebebeb" stroke-width="0.7"/>
<text x="1005.25" y="470.10" font-size="7.3" fill="#131722" text-anchor="middle">L</text>
<path d="M994.7 483.6 L996.8 479.9 H1000.9 L1003 483.6 L1000.9 487.3 H996.8 Z" fill="none" stroke="#131722" stroke-width="0.7"/>
<circle cx="998.85" cy="483.6" r="1.1" fill="none" stroke="#131722" stroke-width="0.6"/>
<text x="29.19" y="485.60" font-size="6.5" fill="#131722" text-anchor="middle" font-style="italic">May</text>
<text x="83.02" y="485.60" font-size="6.5" fill="#131722" text-anchor="middle" font-style="italic">Jul</text>
<text x="136.85" y="485.60" font-size="6.5" fill="#131722" text-anchor="middle" font-style="italic">Sep</text>
<text x="190.68" y="485.60" font-size="6.5" fill="#131722" text-anchor="middle" font-style="italic">Nov</text>
<text x="238.53" y="485.60" font-size="7.0" fill="#131722" font-weight="bold" text-anchor="middle">2024</text>
<text x="292.36" y="485.60" font-size="6.5" fill="#131722" text-anchor="middle" font-style="italic">Mar</text>
<text x="346.19" y="485.60" font-size="6.5" fill="#131722" text-anchor="middle" font-style="italic">May</text>
<text x="394.03" y="485.60" font-size="6.5" fill="#131722" text-anchor="middle" font-style="italic">Jul</text>
<text x="447.86" y="485.60" font-size="6.5" fill="#131722" text-anchor="middle" font-style="italic">Sep</text>
<text x="501.69" y="485.60" font-size="6.5" fill="#131722" text-anchor="middle" font-style="italic">Nov</text>
<text x="555.52" y="485.60" font-size="7.0" fill="#131722" font-weight="bold" text-anchor="middle">2025</text>
<text x="603.37" y="485.60" font-size="6.5" fill="#131722" text-anchor="middle" font-style="italic">Mar</text>
<text x="657.20" y="485.60" font-size="6.5" fill="#131722" text-anchor="middle" font-style="italic">May</text>
<text x="711.03" y="485.60" font-size="6.5" fill="#131722" text-anchor="middle" font-style="italic">Jul</text>
<text x="758.88" y="485.60" font-size="6.5" fill="#131722" text-anchor="middle" font-style="italic">Sep</text>
<text x="812.70" y="485.60" font-size="6.5" fill="#131722" text-anchor="middle" font-style="italic">Nov</text>
<text x="866.53" y="485.60" font-size="7.0" fill="#131722" font-weight="bold" text-anchor="middle">2026</text>
<text x="914.38" y="485.60" font-size="6.5" fill="#131722" text-anchor="middle" font-style="italic">Mar</text>
<text x="968.21" y="485.60" font-size="6.5" fill="#131722" text-anchor="middle" font-style="italic">May</text>
<circle cx="10.05" cy="11.25" r="4.8" fill="#089981" fill-opacity="0.15"/>
<circle cx="10.05" cy="11.25" r="2.3" fill="#089981"/>
<text x="19.90" y="13.9" font-size="7.3" textLength="38.30" lengthAdjust="spacingAndGlyphs"><tspan fill="#131722" stroke="#131722" stroke-width="0.2">O</tspan><tspan fill="#e2521d" stroke="#e2521d" stroke-width="0.2">67,599.20</tspan></text>
<text x="60.80" y="13.9" font-size="7.3" textLength="37.90" lengthAdjust="spacingAndGlyphs"><tspan fill="#131722" stroke="#131722" stroke-width="0.2">H</tspan><tspan fill="#e2521d" stroke="#e2521d" stroke-width="0.2">69,990.37</tspan></text>
<text x="102.30" y="13.9" font-size="7.3" textLength="36.20" lengthAdjust="spacingAndGlyphs"><tspan fill="#131722" stroke="#131722" stroke-width="0.2">L</tspan><tspan fill="#e2521d" stroke="#e2521d" stroke-width="0.2">62,504.95</tspan></text>
<text x="142.20" y="13.9" font-size="7.3" textLength="37.50" lengthAdjust="spacingAndGlyphs"><tspan fill="#131722" stroke="#131722" stroke-width="0.2">C</tspan><tspan fill="#e2521d" stroke="#e2521d" stroke-width="0.2">63,606.47</tspan></text>
<text x="183.40" y="13.90" font-size="7.3" fill="#e2521d" textLength="31.60" lengthAdjust="spacingAndGlyphs" stroke="#e2521d" stroke-width="0.2">−3,990.81</text>
<text x="218.30" y="13.90" font-size="7.3" fill="#e2521d" textLength="26.90" lengthAdjust="spacingAndGlyphs" stroke="#e2521d" stroke-width="0.2">(−5.90%)</text>
<rect x="6.3" y="20.3" width="44.4" height="19.0" rx="2.6" fill="#ffffff" stroke="#f23645" stroke-width="0.65" stroke-opacity="0.8"/>
<text x="28.10" y="28.30" font-size="7.2" fill="#f23645" text-anchor="middle" textLength="32.90" lengthAdjust="spacingAndGlyphs" stroke="#f23645" stroke-width="0.3">63,629.73</text>
<text x="28.10" y="35.80" font-size="6.0" fill="#f23645" text-anchor="middle" textLength="13.60" lengthAdjust="spacingAndGlyphs">SELL</text>
<text x="62.30" y="31.80" font-size="5.3" fill="#333740" text-anchor="middle" textLength="13.20" lengthAdjust="spacingAndGlyphs">17.11</text>
<rect x="74.3" y="20.3" width="44.6" height="19.0" rx="2.6" fill="#ffffff" stroke="#2962ff" stroke-width="0.65" stroke-opacity="0.8"/>
<text x="96.70" y="28.30" font-size="7.2" fill="#2962ff" text-anchor="middle" textLength="32.60" lengthAdjust="spacingAndGlyphs" stroke="#2962ff" stroke-width="0.3">63,646.84</text>
<text x="96.10" y="35.80" font-size="6.0" fill="#2962ff" text-anchor="middle" textLength="11.20" lengthAdjust="spacingAndGlyphs">BUY</text>
<text x="5.80" y="51.50" font-size="7.3" fill="#131722" textLength="41.20" lengthAdjust="spacingAndGlyphs" stroke="#131722" stroke-width="0.15">SMA 50 close</text>
<circle cx="56.4" cy="48.6" r="4.9" fill="#7c3aed" fill-opacity="0.12"/>
<circle cx="56.4" cy="48.6" r="2.7" fill="none" stroke="#7c3aed" stroke-width="1.5" stroke-opacity="0.9"/>
<path d="M58.2 45.3 L60.4 47.4 L57.6 48 Z M54.6 51.9 L52.4 49.8 L55.2 49.2 Z" fill="#7c3aed"/>
<text x="66.20" y="51.40" font-size="7.3" fill="#2962ff" textLength="31.90" lengthAdjust="spacingAndGlyphs" stroke="#2962ff" stroke-width="0.15" fill-opacity="0.9" stroke-opacity="0.9">98,926.91</text>
<rect x="6.1" y="57.2" width="15.3" height="11.5" rx="1.6" fill="#ffffff" stroke="#e3e3e3" stroke-width="0.7"/>
<path d="M11.3 64.1 L13.7 61.9 L16.1 64.1" fill="none" stroke="#131722" stroke-width="0.9"/>
<g transform="translate(7.5 459.7) scale(0.47)" fill="#131722"><path d="M14 18H7V7H0V0h14v18z"/><circle cx="20" cy="4" r="4"/><path d="M28 18h-8l7.5-18h8L28 18z"/></g>
<text x="29.00" y="467.80" font-size="11.2" fill="#131722" font-weight="bold" textLength="67.30" lengthAdjust="spacingAndGlyphs">TradingView</text>
<circle cx="908.7" cy="454.35" r="5.3" fill="#ffffff" stroke="#ab47bc" stroke-width="1.15"/>
<path d="M910.2 450.5 L906.2 455.1 H908.5 L907.3 458.3 L911.3 453.7 H909 Z" fill="#9c27b0"/>
<path d="M902.4 453.6 Q902.8 456 905.2 456.4 Q902.8 456.8 902.4 459.2 Q902 456.8 899.6 456.4 Q902 456 902.4 453.6Z" fill="#7c4dff" stroke="#ffffff" stroke-width="0.5"/>
<clipPath id="fc2"><circle cx="915.2" cy="468.1" r="4.0"/></clipPath>
<circle cx="915.2" cy="468.1" r="5.5" fill="#ffffff"/>
<g clip-path="url(#fc2)">
<rect x="911.2" y="464.1" width="8.0" height="8.0" fill="#ffffff"/>
<rect x="911.2" y="463.70" width="8.0" height="1.3" fill="#ef5350"/>
<rect x="911.2" y="467.50" width="8.0" height="1.3" fill="#ef5350"/>
<rect x="911.2" y="471.10" width="8.0" height="1.3" fill="#ef5350"/>
<rect x="911.2" y="464.1" width="5.3" height="4.8" fill="#4a90e8"/>
</g>
<circle cx="915.2" cy="468.1" r="5.05" fill="none" stroke="#f23645" stroke-width="0.9"/>
<clipPath id="fc1"><circle cx="907.6" cy="468.1" r="4.0"/></clipPath>
<circle cx="907.6" cy="468.1" r="5.5" fill="#ffffff"/>
<g clip-path="url(#fc1)">
<rect x="903.6" y="464.1" width="8.0" height="8.0" fill="#ffffff"/>
<rect x="903.6" y="463.70" width="8.0" height="1.3" fill="#ef5350"/>
<rect x="903.6" y="467.50" width="8.0" height="1.3" fill="#ef5350"/>
<rect x="903.6" y="471.10" width="8.0" height="1.3" fill="#ef5350"/>
<rect x="903.6" y="464.1" width="5.3" height="4.8" fill="#4a90e8"/>
</g>
<circle cx="907.6" cy="468.1" r="5.05" fill="none" stroke="#f23645" stroke-width="0.9"/>
</svg>
</body>
</html>
